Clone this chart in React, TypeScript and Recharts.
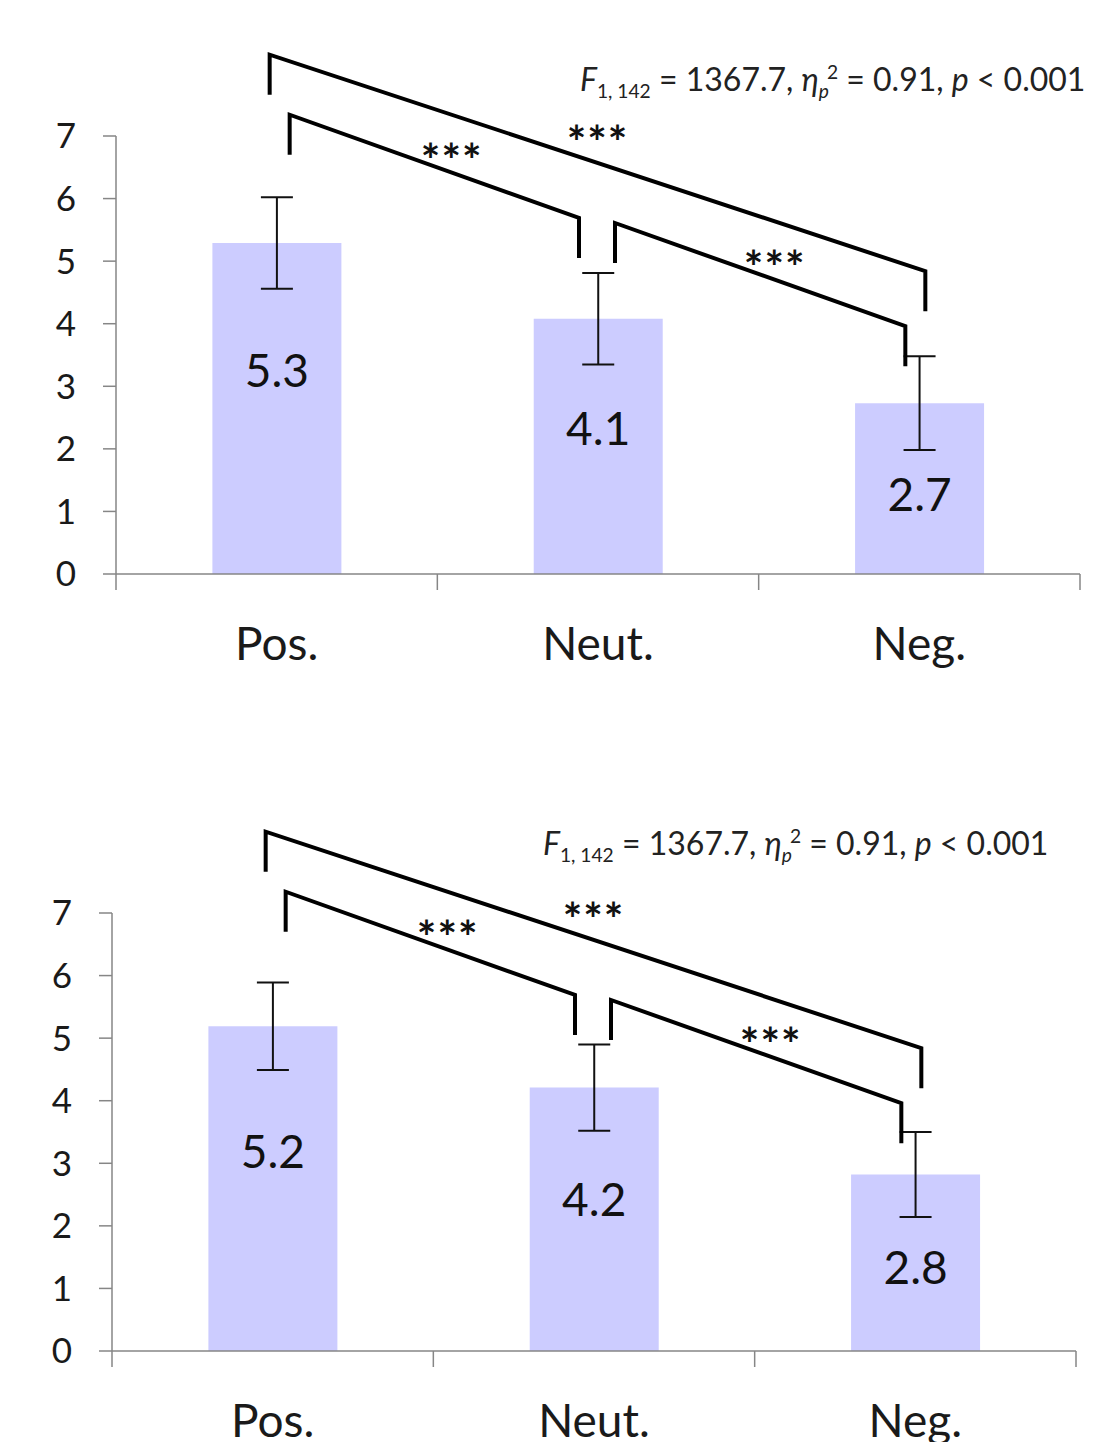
import React from 'react';
import {
  BarChart,
  Bar,
  XAxis,
  YAxis,
  ErrorBar,
  LabelList,
  ReferenceLine,
} from 'recharts';

const categories = ['Pos.', 'Neut.', 'Neg.'];
const yTicks = [0, 1, 2, 3, 4, 5, 6, 7];

// upper panel
const topMeans = [5.29, 4.08, 2.73];
const topErrors = [0.73, 0.73, 0.75];

// lower panel
const bottomMeans = [5.19, 4.21, 2.82];
const bottomErrors = [0.7, 0.69, 0.68];

// significance brackets: pair of categories and the height of each end (axis units)
const bracketPairs = [
  { from: 'Pos.', to: 'Neg.', yFrom: 8.3, yTo: 4.84, stars: '***' },
  { from: 'Pos.', to: 'Neut.', yFrom: 7.34, yTo: 5.69, stars: '***' },
  { from: 'Neut.', to: 'Neg.', yFrom: 5.61, yTo: 3.96, stars: '***' },
];
// pixel nudges for each bracket (style only)
const bracketNudges = [
  { dxFrom: -7, dxTo: 6, t: 0.5, lift: 31 },
  { dxFrom: 13, dxTo: -19, t: 0.56, lift: 23 },
  { dxFrom: 17, dxTo: -14, t: 0.55, lift: 23 },
];

const FONT = 'Lato, "Open Sans", "DejaVu Sans", sans-serif';
const AXIS = '#868686';
const BAR = '#CCCCFF';
const W = 1095;
const H = 700;
const MARGIN = { top: 136, right: 15, left: 0, bottom: 0 };
const Y_AXIS_W = 116;
const X_AXIS_H = 126;
const TICK = 16;
const PLOT_W = W - MARGIN.right - Y_AXIS_W;

function CategoryTick(props: any) {
  const { x, y, payload, index, visibleTicksCount } = props;
  const half =
    typeof payload?.offset === 'number' && payload.offset > 0
      ? payload.offset
      : PLOT_W / (categories.length * 2);
  const axisY = y - TICK;
  return (
    <g>
      <line x1={x - half} x2={x - half} y1={axisY} y2={axisY + TICK} stroke={AXIS} strokeWidth={1.5} />
      {index === visibleTicksCount - 1 && (
        <line x1={x + half} x2={x + half} y1={axisY} y2={axisY + TICK} stroke={AXIS} strokeWidth={1.5} />
      )}
      <text x={x} y={axisY + 86} textAnchor="middle" fontSize={46} fontFamily={FONT} fill="#1a1a1a">
        {payload.value}
      </text>
    </g>
  );
}

function ValueLabel(props: any) {
  const { x, y, width, height, value } = props;
  const cy = y + 52 + 0.224 * height;
  return (
    <text
      x={x + width / 2}
      y={cy}
      textAnchor="middle"
      dominantBaseline="central"
      fontSize={46}
      fontFamily={FONT}
      fill="#111"
    >
      {Number(value).toFixed(1)}
    </text>
  );
}

function Bracket(props: any) {
  const { x1, y1, x2, y2, nudge, stars } = props;
  const leg = 40;
  const xa = x1 + nudge.dxFrom;
  const xb = x2 + nudge.dxTo;
  const sx = xa + (xb - xa) * nudge.t;
  const sy = y1 + (y2 - y1) * nudge.t - nudge.lift;
  return (
    <g>
      <path
        d={`M${xa},${y1 + leg} L${xa},${y1} L${xb},${y2} L${xb},${y2 + leg}`}
        fill="none"
        stroke="#000"
        strokeWidth={4}
        strokeLinejoin="miter"
      />
      <text
        x={sx}
        y={sy + 27}
        textAnchor="middle"
        fontSize={46}
        fontWeight="bold"
        fontFamily={FONT}
        letterSpacing={1}
        fill="#111"
      >
        {stars}
      </text>
    </g>
  );
}

function StatsText({ left, top }: { left: number; top: number }) {
  return (
    <div
      style={{
        position: 'absolute',
        left,
        top,
        fontFamily: FONT,
        fontSize: 32,
        lineHeight: 1,
        color: '#222',
        whiteSpace: 'nowrap',
      }}
    >
      <i>F</i>
      <sub style={{ fontSize: '0.6em' }}>1, 142</sub> = 1367.7, <i>η</i>
      <sub style={{ fontSize: '0.6em', marginRight: -2 }}>
        <i>p</i>
      </sub>
      <sup style={{ fontSize: '0.6em' }}>2</sup> = 0.91, <i>p</i> &lt; 0.001
    </div>
  );
}

function Panel({ means, errors }: { means: number[]; errors: number[] }) {
  const data = categories.map((name, i) => ({ name, mean: means[i], err: errors[i] }));
  return (
    <BarChart width={W} height={H} data={data} margin={MARGIN} barCategoryGap="30%">
      <XAxis
        dataKey="name"
        height={X_AXIS_H}
        axisLine={{ stroke: AXIS, strokeWidth: 1.5 }}
        tickLine={false}
        tickSize={TICK}
        tickMargin={0}
        interval={0}
        tick={<CategoryTick />}
      />
      <YAxis
        domain={[0, 7]}
        ticks={yTicks}
        interval={0}
        width={Y_AXIS_W}
        tickSize={13}
        tickMargin={27}
        axisLine={{ stroke: AXIS, strokeWidth: 1.5 }}
        tickLine={{ stroke: AXIS, strokeWidth: 1.5 }}
        tick={{ fill: '#1a1a1a', fontSize: 35, fontFamily: FONT }}
      />
      <Bar dataKey="mean" fill={BAR} isAnimationActive={false}>
        <LabelList dataKey="mean" content={<ValueLabel />} />
        <ErrorBar dataKey="err" width={16} stroke="#111" strokeWidth={2} isAnimationActive={false} />
      </Bar>
      {bracketPairs.map((b, i) => (
        <ReferenceLine
          key={i}
          ifOverflow="visible"
          segment={[
            { x: b.from, y: b.yFrom },
            { x: b.to, y: b.yTo },
          ]}
          shape={(p: any) => <Bracket {...p} nudge={bracketNudges[i]} stars={b.stars} />}
        />
      ))}
    </BarChart>
  );
}

export default function App() {
  return (
    <div
      style={{
        position: 'absolute',
        left: 0,
        top: 0,
        width: W,
        height: 1442,
        overflow: 'hidden',
        background: '#fff',
        fontFamily: FONT,
      }}
    >
      <div style={{ position: 'absolute', left: 0, top: 0 }}>
        <Panel means={topMeans} errors={topErrors} />
        <StatsText left={580} top={62} />
      </div>
      <div style={{ position: 'absolute', left: -4, top: 777 }}>
        <Panel means={bottomMeans} errors={bottomErrors} />
        <StatsText left={547} top={49} />
      </div>
    </div>
  );
}
